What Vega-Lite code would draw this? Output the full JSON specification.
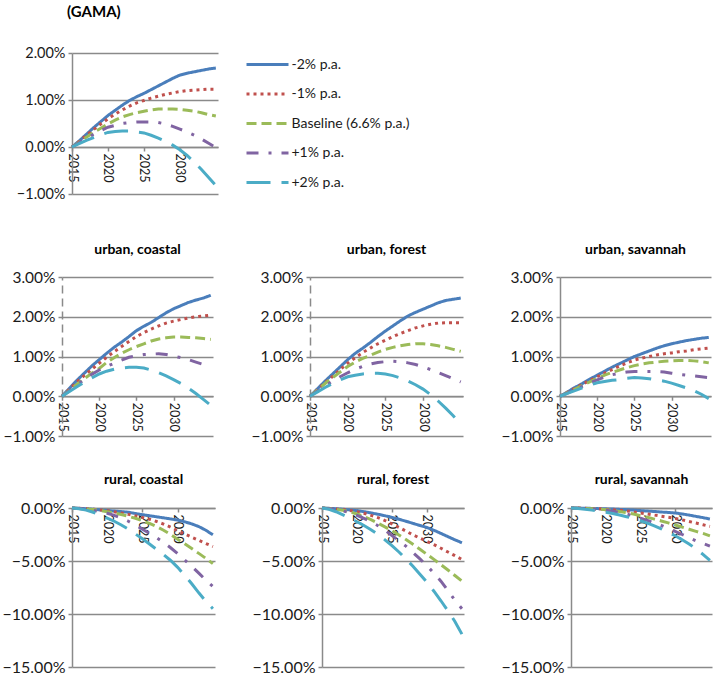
{
"$schema":"https://vega.github.io/schema/vega-lite/v6.json",
"padding":{"left":0,"top":5,"right":0,"bottom":0},
"background":"white",
"config":{
"view":{"stroke":null},
"font":"Lato",
"axis":{"domainColor":"#8a8a8a","domainWidth":1.5,"tickColor":"#8a8a8a","tickWidth":1.5,"tickSize":4,"gridColor":"#8a8a8a","gridWidth":1.5,"labelColor":"#1a1a1a","labelFont":"Lato","labelPadding":3},
"axisX":{"labelFontSize":12.5,"labelAngle":90,"grid":false,"labelPadding":2,"format":"d","labelOverlap":false,"labelFlush":false},
"axisY":{"grid":true,"labelOverlap":false},
"title":{"font":"Lato","fontSize":14,"fontWeight":"bold","color":"#000000","anchor":"middle"},
"legend":{"orient":"none","legendX":255.5,"legendY":-0.5,"labelFont":"Lato","labelFontSize":14,"labelColor":"#1a1a1a","symbolType":"M-2,0H2","symbolSize":441,"symbolStrokeWidth":3,"rowPadding":10.5,"labelOffset":12,"padding":0}
},
"datasets":{
"g":[
{"s":"a","t":2015,"v":0},{"s":"a","t":2016,"v":0.13},{"s":"a","t":2017,"v":0.27},{"s":"a","t":2018,"v":0.41},{"s":"a","t":2019,"v":0.54},{"s":"a","t":2020,"v":0.67},{"s":"a","t":2021,"v":0.78},{"s":"a","t":2022,"v":0.89},{"s":"a","t":2023,"v":0.99},{"s":"a","t":2024,"v":1.07},{"s":"a","t":2025,"v":1.14},{"s":"a","t":2026,"v":1.22},{"s":"a","t":2027,"v":1.30},{"s":"a","t":2028,"v":1.38},{"s":"a","t":2029,"v":1.46},{"s":"a","t":2030,"v":1.53},{"s":"a","t":2031,"v":1.57},{"s":"a","t":2032,"v":1.60},{"s":"a","t":2033,"v":1.63},{"s":"a","t":2034,"v":1.66},{"s":"a","t":2035,"v":1.68},
{"s":"b","t":2015,"v":0},{"s":"b","t":2016,"v":0.12},{"s":"b","t":2017,"v":0.25},{"s":"b","t":2018,"v":0.37},{"s":"b","t":2019,"v":0.49},{"s":"b","t":2020,"v":0.60},{"s":"b","t":2021,"v":0.70},{"s":"b","t":2022,"v":0.79},{"s":"b","t":2023,"v":0.87},{"s":"b","t":2024,"v":0.94},{"s":"b","t":2025,"v":0.99},{"s":"b","t":2026,"v":1.04},{"s":"b","t":2027,"v":1.08},{"s":"b","t":2028,"v":1.12},{"s":"b","t":2029,"v":1.15},{"s":"b","t":2030,"v":1.18},{"s":"b","t":2031,"v":1.20},{"s":"b","t":2032,"v":1.21},{"s":"b","t":2033,"v":1.22},{"s":"b","t":2034,"v":1.23},{"s":"b","t":2035,"v":1.23},
{"s":"c","t":2015,"v":0},{"s":"c","t":2016,"v":0.10},{"s":"c","t":2017,"v":0.21},{"s":"c","t":2018,"v":0.31},{"s":"c","t":2019,"v":0.40},{"s":"c","t":2020,"v":0.49},{"s":"c","t":2021,"v":0.57},{"s":"c","t":2022,"v":0.64},{"s":"c","t":2023,"v":0.69},{"s":"c","t":2024,"v":0.73},{"s":"c","t":2025,"v":0.76},{"s":"c","t":2026,"v":0.79},{"s":"c","t":2027,"v":0.81},{"s":"c","t":2028,"v":0.81},{"s":"c","t":2029,"v":0.81},{"s":"c","t":2030,"v":0.80},{"s":"c","t":2031,"v":0.78},{"s":"c","t":2032,"v":0.76},{"s":"c","t":2033,"v":0.73},{"s":"c","t":2034,"v":0.69},{"s":"c","t":2035,"v":0.66},
{"s":"d","t":2015,"v":0},{"s":"d","t":2016,"v":0.09},{"s":"d","t":2017,"v":0.18},{"s":"d","t":2018,"v":0.27},{"s":"d","t":2019,"v":0.35},{"s":"d","t":2020,"v":0.42},{"s":"d","t":2021,"v":0.46},{"s":"d","t":2022,"v":0.50},{"s":"d","t":2023,"v":0.52},{"s":"d","t":2024,"v":0.53},{"s":"d","t":2025,"v":0.53},{"s":"d","t":2026,"v":0.53},{"s":"d","t":2027,"v":0.52},{"s":"d","t":2028,"v":0.49},{"s":"d","t":2029,"v":0.44},{"s":"d","t":2030,"v":0.38},{"s":"d","t":2031,"v":0.32},{"s":"d","t":2032,"v":0.25},{"s":"d","t":2033,"v":0.17},{"s":"d","t":2034,"v":0.08},{"s":"d","t":2035,"v":-0.01},
{"s":"e","t":2015,"v":0},{"s":"e","t":2016,"v":0.07},{"s":"e","t":2017,"v":0.14},{"s":"e","t":2018,"v":0.20},{"s":"e","t":2019,"v":0.26},{"s":"e","t":2020,"v":0.31},{"s":"e","t":2021,"v":0.33},{"s":"e","t":2022,"v":0.34},{"s":"e","t":2023,"v":0.34},{"s":"e","t":2024,"v":0.32},{"s":"e","t":2025,"v":0.30},{"s":"e","t":2026,"v":0.25},{"s":"e","t":2027,"v":0.19},{"s":"e","t":2028,"v":0.12},{"s":"e","t":2029,"v":0.04},{"s":"e","t":2030,"v":-0.06},{"s":"e","t":2031,"v":-0.18},{"s":"e","t":2032,"v":-0.32},{"s":"e","t":2033,"v":-0.48},{"s":"e","t":2034,"v":-0.65},{"s":"e","t":2035,"v":-0.82}
],
"uc":[
{"s":"a","t":2015,"v":0},{"s":"a","t":2016,"v":0.20},{"s":"a","t":2017,"v":0.40},{"s":"a","t":2018,"v":0.58},{"s":"a","t":2019,"v":0.76},{"s":"a","t":2020,"v":0.92},{"s":"a","t":2021,"v":1.08},{"s":"a","t":2022,"v":1.23},{"s":"a","t":2023,"v":1.36},{"s":"a","t":2024,"v":1.50},{"s":"a","t":2025,"v":1.65},{"s":"a","t":2026,"v":1.76},{"s":"a","t":2027,"v":1.86},{"s":"a","t":2028,"v":1.98},{"s":"a","t":2029,"v":2.10},{"s":"a","t":2030,"v":2.20},{"s":"a","t":2031,"v":2.28},{"s":"a","t":2032,"v":2.36},{"s":"a","t":2033,"v":2.42},{"s":"a","t":2034,"v":2.47},{"s":"a","t":2035,"v":2.54},
{"s":"b","t":2015,"v":0},{"s":"b","t":2016,"v":0.18},{"s":"b","t":2017,"v":0.36},{"s":"b","t":2018,"v":0.52},{"s":"b","t":2019,"v":0.68},{"s":"b","t":2020,"v":0.83},{"s":"b","t":2021,"v":0.98},{"s":"b","t":2022,"v":1.12},{"s":"b","t":2023,"v":1.25},{"s":"b","t":2024,"v":1.38},{"s":"b","t":2025,"v":1.50},{"s":"b","t":2026,"v":1.60},{"s":"b","t":2027,"v":1.69},{"s":"b","t":2028,"v":1.77},{"s":"b","t":2029,"v":1.84},{"s":"b","t":2030,"v":1.89},{"s":"b","t":2031,"v":1.93},{"s":"b","t":2032,"v":1.97},{"s":"b","t":2033,"v":2.00},{"s":"b","t":2034,"v":2.02},{"s":"b","t":2035,"v":2.04},
{"s":"c","t":2015,"v":0},{"s":"c","t":2016,"v":0.15},{"s":"c","t":2017,"v":0.30},{"s":"c","t":2018,"v":0.44},{"s":"c","t":2019,"v":0.58},{"s":"c","t":2020,"v":0.70},{"s":"c","t":2021,"v":0.85},{"s":"c","t":2022,"v":0.97},{"s":"c","t":2023,"v":1.08},{"s":"c","t":2024,"v":1.17},{"s":"c","t":2025,"v":1.25},{"s":"c","t":2026,"v":1.32},{"s":"c","t":2027,"v":1.39},{"s":"c","t":2028,"v":1.44},{"s":"c","t":2029,"v":1.47},{"s":"c","t":2030,"v":1.49},{"s":"c","t":2031,"v":1.49},{"s":"c","t":2032,"v":1.48},{"s":"c","t":2033,"v":1.47},{"s":"c","t":2034,"v":1.45},{"s":"c","t":2035,"v":1.43},
{"s":"d","t":2015,"v":0},{"s":"d","t":2016,"v":0.14},{"s":"d","t":2017,"v":0.28},{"s":"d","t":2018,"v":0.42},{"s":"d","t":2019,"v":0.55},{"s":"d","t":2020,"v":0.66},{"s":"d","t":2021,"v":0.75},{"s":"d","t":2022,"v":0.83},{"s":"d","t":2023,"v":0.91},{"s":"d","t":2024,"v":0.98},{"s":"d","t":2025,"v":1.02},{"s":"d","t":2026,"v":1.05},{"s":"d","t":2027,"v":1.06},{"s":"d","t":2028,"v":1.07},{"s":"d","t":2029,"v":1.05},{"s":"d","t":2030,"v":1.01},{"s":"d","t":2031,"v":0.97},{"s":"d","t":2032,"v":0.92},{"s":"d","t":2033,"v":0.86},{"s":"d","t":2034,"v":0.80},{"s":"d","t":2035,"v":0.74},
{"s":"e","t":2015,"v":0},{"s":"e","t":2016,"v":0.12},{"s":"e","t":2017,"v":0.24},{"s":"e","t":2018,"v":0.35},{"s":"e","t":2019,"v":0.46},{"s":"e","t":2020,"v":0.56},{"s":"e","t":2021,"v":0.63},{"s":"e","t":2022,"v":0.68},{"s":"e","t":2023,"v":0.71},{"s":"e","t":2024,"v":0.73},{"s":"e","t":2025,"v":0.73},{"s":"e","t":2026,"v":0.71},{"s":"e","t":2027,"v":0.66},{"s":"e","t":2028,"v":0.59},{"s":"e","t":2029,"v":0.51},{"s":"e","t":2030,"v":0.42},{"s":"e","t":2031,"v":0.32},{"s":"e","t":2032,"v":0.20},{"s":"e","t":2033,"v":0.07},{"s":"e","t":2034,"v":-0.08},{"s":"e","t":2035,"v":-0.23}
],
"uf":[
{"s":"a","t":2015,"v":0},{"s":"a","t":2016,"v":0.19},{"s":"a","t":2017,"v":0.38},{"s":"a","t":2018,"v":0.56},{"s":"a","t":2019,"v":0.74},{"s":"a","t":2020,"v":0.92},{"s":"a","t":2021,"v":1.08},{"s":"a","t":2022,"v":1.21},{"s":"a","t":2023,"v":1.35},{"s":"a","t":2024,"v":1.50},{"s":"a","t":2025,"v":1.64},{"s":"a","t":2026,"v":1.77},{"s":"a","t":2027,"v":1.90},{"s":"a","t":2028,"v":2.02},{"s":"a","t":2029,"v":2.11},{"s":"a","t":2030,"v":2.19},{"s":"a","t":2031,"v":2.27},{"s":"a","t":2032,"v":2.35},{"s":"a","t":2033,"v":2.41},{"s":"a","t":2034,"v":2.44},{"s":"a","t":2035,"v":2.47},
{"s":"b","t":2015,"v":0},{"s":"b","t":2016,"v":0.17},{"s":"b","t":2017,"v":0.34},{"s":"b","t":2018,"v":0.50},{"s":"b","t":2019,"v":0.67},{"s":"b","t":2020,"v":0.83},{"s":"b","t":2021,"v":0.97},{"s":"b","t":2022,"v":1.10},{"s":"b","t":2023,"v":1.21},{"s":"b","t":2024,"v":1.32},{"s":"b","t":2025,"v":1.41},{"s":"b","t":2026,"v":1.50},{"s":"b","t":2027,"v":1.58},{"s":"b","t":2028,"v":1.65},{"s":"b","t":2029,"v":1.72},{"s":"b","t":2030,"v":1.77},{"s":"b","t":2031,"v":1.81},{"s":"b","t":2032,"v":1.84},{"s":"b","t":2033,"v":1.85},{"s":"b","t":2034,"v":1.85},{"s":"b","t":2035,"v":1.85},
{"s":"c","t":2015,"v":0},{"s":"c","t":2016,"v":0.16},{"s":"c","t":2017,"v":0.32},{"s":"c","t":2018,"v":0.47},{"s":"c","t":2019,"v":0.61},{"s":"c","t":2020,"v":0.75},{"s":"c","t":2021,"v":0.86},{"s":"c","t":2022,"v":0.95},{"s":"c","t":2023,"v":1.03},{"s":"c","t":2024,"v":1.11},{"s":"c","t":2025,"v":1.18},{"s":"c","t":2026,"v":1.23},{"s":"c","t":2027,"v":1.27},{"s":"c","t":2028,"v":1.30},{"s":"c","t":2029,"v":1.32},{"s":"c","t":2030,"v":1.32},{"s":"c","t":2031,"v":1.30},{"s":"c","t":2032,"v":1.27},{"s":"c","t":2033,"v":1.23},{"s":"c","t":2034,"v":1.18},{"s":"c","t":2035,"v":1.13},
{"s":"d","t":2015,"v":0},{"s":"d","t":2016,"v":0.13},{"s":"d","t":2017,"v":0.26},{"s":"d","t":2018,"v":0.38},{"s":"d","t":2019,"v":0.49},{"s":"d","t":2020,"v":0.59},{"s":"d","t":2021,"v":0.68},{"s":"d","t":2022,"v":0.75},{"s":"d","t":2023,"v":0.81},{"s":"d","t":2024,"v":0.85},{"s":"d","t":2025,"v":0.87},{"s":"d","t":2026,"v":0.88},{"s":"d","t":2027,"v":0.87},{"s":"d","t":2028,"v":0.84},{"s":"d","t":2029,"v":0.80},{"s":"d","t":2030,"v":0.74},{"s":"d","t":2031,"v":0.67},{"s":"d","t":2032,"v":0.60},{"s":"d","t":2033,"v":0.52},{"s":"d","t":2034,"v":0.44},{"s":"d","t":2035,"v":0.36},
{"s":"e","t":2015,"v":0},{"s":"e","t":2016,"v":0.11},{"s":"e","t":2017,"v":0.22},{"s":"e","t":2018,"v":0.32},{"s":"e","t":2019,"v":0.41},{"s":"e","t":2020,"v":0.49},{"s":"e","t":2021,"v":0.53},{"s":"e","t":2022,"v":0.56},{"s":"e","t":2023,"v":0.58},{"s":"e","t":2024,"v":0.58},{"s":"e","t":2025,"v":0.56},{"s":"e","t":2026,"v":0.52},{"s":"e","t":2027,"v":0.46},{"s":"e","t":2028,"v":0.38},{"s":"e","t":2029,"v":0.29},{"s":"e","t":2030,"v":0.18},{"s":"e","t":2031,"v":0.04},{"s":"e","t":2032,"v":-0.12},{"s":"e","t":2033,"v":-0.30},{"s":"e","t":2034,"v":-0.49},{"s":"e","t":2035,"v":-0.70}
],
"us":[
{"s":"a","t":2015,"v":0},{"s":"a","t":2016,"v":0.11},{"s":"a","t":2017,"v":0.22},{"s":"a","t":2018,"v":0.32},{"s":"a","t":2019,"v":0.43},{"s":"a","t":2020,"v":0.53},{"s":"a","t":2021,"v":0.63},{"s":"a","t":2022,"v":0.73},{"s":"a","t":2023,"v":0.82},{"s":"a","t":2024,"v":0.91},{"s":"a","t":2025,"v":1.00},{"s":"a","t":2026,"v":1.07},{"s":"a","t":2027,"v":1.14},{"s":"a","t":2028,"v":1.21},{"s":"a","t":2029,"v":1.27},{"s":"a","t":2030,"v":1.32},{"s":"a","t":2031,"v":1.36},{"s":"a","t":2032,"v":1.40},{"s":"a","t":2033,"v":1.43},{"s":"a","t":2034,"v":1.46},{"s":"a","t":2035,"v":1.48},
{"s":"b","t":2015,"v":0},{"s":"b","t":2016,"v":0.10},{"s":"b","t":2017,"v":0.20},{"s":"b","t":2018,"v":0.30},{"s":"b","t":2019,"v":0.40},{"s":"b","t":2020,"v":0.49},{"s":"b","t":2021,"v":0.58},{"s":"b","t":2022,"v":0.67},{"s":"b","t":2023,"v":0.76},{"s":"b","t":2024,"v":0.84},{"s":"b","t":2025,"v":0.91},{"s":"b","t":2026,"v":0.96},{"s":"b","t":2027,"v":1.00},{"s":"b","t":2028,"v":1.04},{"s":"b","t":2029,"v":1.07},{"s":"b","t":2030,"v":1.09},{"s":"b","t":2031,"v":1.12},{"s":"b","t":2032,"v":1.14},{"s":"b","t":2033,"v":1.17},{"s":"b","t":2034,"v":1.19},{"s":"b","t":2035,"v":1.21},
{"s":"c","t":2015,"v":0},{"s":"c","t":2016,"v":0.09},{"s":"c","t":2017,"v":0.18},{"s":"c","t":2018,"v":0.27},{"s":"c","t":2019,"v":0.36},{"s":"c","t":2020,"v":0.45},{"s":"c","t":2021,"v":0.53},{"s":"c","t":2022,"v":0.60},{"s":"c","t":2023,"v":0.66},{"s":"c","t":2024,"v":0.72},{"s":"c","t":2025,"v":0.77},{"s":"c","t":2026,"v":0.81},{"s":"c","t":2027,"v":0.84},{"s":"c","t":2028,"v":0.86},{"s":"c","t":2029,"v":0.88},{"s":"c","t":2030,"v":0.89},{"s":"c","t":2031,"v":0.90},{"s":"c","t":2032,"v":0.90},{"s":"c","t":2033,"v":0.89},{"s":"c","t":2034,"v":0.87},{"s":"c","t":2035,"v":0.84},
{"s":"d","t":2015,"v":0},{"s":"d","t":2016,"v":0.08},{"s":"d","t":2017,"v":0.17},{"s":"d","t":2018,"v":0.25},{"s":"d","t":2019,"v":0.33},{"s":"d","t":2020,"v":0.41},{"s":"d","t":2021,"v":0.48},{"s":"d","t":2022,"v":0.54},{"s":"d","t":2023,"v":0.58},{"s":"d","t":2024,"v":0.61},{"s":"d","t":2025,"v":0.62},{"s":"d","t":2026,"v":0.62},{"s":"d","t":2027,"v":0.62},{"s":"d","t":2028,"v":0.62},{"s":"d","t":2029,"v":0.61},{"s":"d","t":2030,"v":0.58},{"s":"d","t":2031,"v":0.55},{"s":"d","t":2032,"v":0.53},{"s":"d","t":2033,"v":0.51},{"s":"d","t":2034,"v":0.49},{"s":"d","t":2035,"v":0.47},
{"s":"e","t":2015,"v":0},{"s":"e","t":2016,"v":0.07},{"s":"e","t":2017,"v":0.14},{"s":"e","t":2018,"v":0.21},{"s":"e","t":2019,"v":0.28},{"s":"e","t":2020,"v":0.34},{"s":"e","t":2021,"v":0.37},{"s":"e","t":2022,"v":0.40},{"s":"e","t":2023,"v":0.42},{"s":"e","t":2024,"v":0.45},{"s":"e","t":2025,"v":0.47},{"s":"e","t":2026,"v":0.46},{"s":"e","t":2027,"v":0.44},{"s":"e","t":2028,"v":0.41},{"s":"e","t":2029,"v":0.38},{"s":"e","t":2030,"v":0.33},{"s":"e","t":2031,"v":0.27},{"s":"e","t":2032,"v":0.21},{"s":"e","t":2033,"v":0.14},{"s":"e","t":2034,"v":0.05},{"s":"e","t":2035,"v":-0.06}
],
"rc":[
{"s":"a","t":2015,"v":0},{"s":"a","t":2016,"v":-0.03},{"s":"a","t":2017,"v":-0.07},{"s":"a","t":2018,"v":-0.12},{"s":"a","t":2019,"v":-0.18},{"s":"a","t":2020,"v":-0.24},{"s":"a","t":2021,"v":-0.29},{"s":"a","t":2022,"v":-0.34},{"s":"a","t":2023,"v":-0.40},{"s":"a","t":2024,"v":-0.52},{"s":"a","t":2025,"v":-0.63},{"s":"a","t":2026,"v":-0.73},{"s":"a","t":2027,"v":-0.83},{"s":"a","t":2028,"v":-0.93},{"s":"a","t":2029,"v":-1.03},{"s":"a","t":2030,"v":-1.14},{"s":"a","t":2031,"v":-1.30},{"s":"a","t":2032,"v":-1.50},{"s":"a","t":2033,"v":-1.75},{"s":"a","t":2034,"v":-2.10},{"s":"a","t":2035,"v":-2.53},
{"s":"b","t":2015,"v":0},{"s":"b","t":2016,"v":-0.03},{"s":"b","t":2017,"v":-0.07},{"s":"b","t":2018,"v":-0.12},{"s":"b","t":2019,"v":-0.18},{"s":"b","t":2020,"v":-0.25},{"s":"b","t":2021,"v":-0.35},{"s":"b","t":2022,"v":-0.47},{"s":"b","t":2023,"v":-0.60},{"s":"b","t":2024,"v":-0.74},{"s":"b","t":2025,"v":-0.89},{"s":"b","t":2026,"v":-1.06},{"s":"b","t":2027,"v":-1.27},{"s":"b","t":2028,"v":-1.52},{"s":"b","t":2029,"v":-1.81},{"s":"b","t":2030,"v":-2.15},{"s":"b","t":2031,"v":-2.45},{"s":"b","t":2032,"v":-2.75},{"s":"b","t":2033,"v":-3.05},{"s":"b","t":2034,"v":-3.35},{"s":"b","t":2035,"v":-3.64},
{"s":"c","t":2015,"v":0},{"s":"c","t":2016,"v":-0.04},{"s":"c","t":2017,"v":-0.09},{"s":"c","t":2018,"v":-0.15},{"s":"c","t":2019,"v":-0.24},{"s":"c","t":2020,"v":-0.35},{"s":"c","t":2021,"v":-0.47},{"s":"c","t":2022,"v":-0.61},{"s":"c","t":2023,"v":-0.78},{"s":"c","t":2024,"v":-0.97},{"s":"c","t":2025,"v":-1.20},{"s":"c","t":2026,"v":-1.45},{"s":"c","t":2027,"v":-1.75},{"s":"c","t":2028,"v":-2.10},{"s":"c","t":2029,"v":-2.50},{"s":"c","t":2030,"v":-2.94},{"s":"c","t":2031,"v":-3.38},{"s":"c","t":2032,"v":-3.83},{"s":"c","t":2033,"v":-4.28},{"s":"c","t":2034,"v":-4.75},{"s":"c","t":2035,"v":-5.25},
{"s":"d","t":2015,"v":0},{"s":"d","t":2016,"v":-0.05},{"s":"d","t":2017,"v":-0.12},{"s":"d","t":2018,"v":-0.22},{"s":"d","t":2019,"v":-0.35},{"s":"d","t":2020,"v":-0.50},{"s":"d","t":2021,"v":-0.70},{"s":"d","t":2022,"v":-0.95},{"s":"d","t":2023,"v":-1.25},{"s":"d","t":2024,"v":-1.60},{"s":"d","t":2025,"v":-2.00},{"s":"d","t":2026,"v":-2.40},{"s":"d","t":2027,"v":-2.80},{"s":"d","t":2028,"v":-3.25},{"s":"d","t":2029,"v":-3.75},{"s":"d","t":2030,"v":-4.30},{"s":"d","t":2031,"v":-4.90},{"s":"d","t":2032,"v":-5.50},{"s":"d","t":2033,"v":-6.15},{"s":"d","t":2034,"v":-6.80},{"s":"d","t":2035,"v":-7.40},
{"s":"e","t":2015,"v":0},{"s":"e","t":2016,"v":-0.08},{"s":"e","t":2017,"v":-0.20},{"s":"e","t":2018,"v":-0.40},{"s":"e","t":2019,"v":-0.65},{"s":"e","t":2020,"v":-0.95},{"s":"e","t":2021,"v":-1.25},{"s":"e","t":2022,"v":-1.60},{"s":"e","t":2023,"v":-2.00},{"s":"e","t":2024,"v":-2.45},{"s":"e","t":2025,"v":-2.90},{"s":"e","t":2026,"v":-3.40},{"s":"e","t":2027,"v":-3.90},{"s":"e","t":2028,"v":-4.40},{"s":"e","t":2029,"v":-4.95},{"s":"e","t":2030,"v":-5.60},{"s":"e","t":2031,"v":-6.35},{"s":"e","t":2032,"v":-7.15},{"s":"e","t":2033,"v":-8.00},{"s":"e","t":2034,"v":-8.80},{"s":"e","t":2035,"v":-9.50}
],
"rf":[
{"s":"a","t":2015,"v":0},{"s":"a","t":2016,"v":-0.03},{"s":"a","t":2017,"v":-0.07},{"s":"a","t":2018,"v":-0.12},{"s":"a","t":2019,"v":-0.18},{"s":"a","t":2020,"v":-0.25},{"s":"a","t":2021,"v":-0.35},{"s":"a","t":2022,"v":-0.46},{"s":"a","t":2023,"v":-0.59},{"s":"a","t":2024,"v":-0.73},{"s":"a","t":2025,"v":-0.89},{"s":"a","t":2026,"v":-1.06},{"s":"a","t":2027,"v":-1.25},{"s":"a","t":2028,"v":-1.45},{"s":"a","t":2029,"v":-1.65},{"s":"a","t":2030,"v":-1.84},{"s":"a","t":2031,"v":-2.10},{"s":"a","t":2032,"v":-2.40},{"s":"a","t":2033,"v":-2.70},{"s":"a","t":2034,"v":-3.00},{"s":"a","t":2035,"v":-3.28},
{"s":"b","t":2015,"v":0},{"s":"b","t":2016,"v":-0.04},{"s":"b","t":2017,"v":-0.09},{"s":"b","t":2018,"v":-0.15},{"s":"b","t":2019,"v":-0.24},{"s":"b","t":2020,"v":-0.35},{"s":"b","t":2021,"v":-0.50},{"s":"b","t":2022,"v":-0.69},{"s":"b","t":2023,"v":-0.91},{"s":"b","t":2024,"v":-1.18},{"s":"b","t":2025,"v":-1.50},{"s":"b","t":2026,"v":-1.83},{"s":"b","t":2027,"v":-2.18},{"s":"b","t":2028,"v":-2.53},{"s":"b","t":2029,"v":-2.85},{"s":"b","t":2030,"v":-3.15},{"s":"b","t":2031,"v":-3.45},{"s":"b","t":2032,"v":-3.80},{"s":"b","t":2033,"v":-4.15},{"s":"b","t":2034,"v":-4.50},{"s":"b","t":2035,"v":-4.85},
{"s":"c","t":2015,"v":0},{"s":"c","t":2016,"v":-0.05},{"s":"c","t":2017,"v":-0.12},{"s":"c","t":2018,"v":-0.22},{"s":"c","t":2019,"v":-0.37},{"s":"c","t":2020,"v":-0.57},{"s":"c","t":2021,"v":-0.80},{"s":"c","t":2022,"v":-1.10},{"s":"c","t":2023,"v":-1.43},{"s":"c","t":2024,"v":-1.78},{"s":"c","t":2025,"v":-2.15},{"s":"c","t":2026,"v":-2.55},{"s":"c","t":2027,"v":-2.98},{"s":"c","t":2028,"v":-3.43},{"s":"c","t":2029,"v":-3.90},{"s":"c","t":2030,"v":-4.37},{"s":"c","t":2031,"v":-4.85},{"s":"c","t":2032,"v":-5.35},{"s":"c","t":2033,"v":-5.85},{"s":"c","t":2034,"v":-6.37},{"s":"c","t":2035,"v":-6.90},
{"s":"d","t":2015,"v":0},{"s":"d","t":2016,"v":-0.06},{"s":"d","t":2017,"v":-0.14},{"s":"d","t":2018,"v":-0.27},{"s":"d","t":2019,"v":-0.45},{"s":"d","t":2020,"v":-0.70},{"s":"d","t":2021,"v":-0.98},{"s":"d","t":2022,"v":-1.30},{"s":"d","t":2023,"v":-1.67},{"s":"d","t":2024,"v":-2.10},{"s":"d","t":2025,"v":-2.60},{"s":"d","t":2026,"v":-3.10},{"s":"d","t":2027,"v":-3.60},{"s":"d","t":2028,"v":-4.20},{"s":"d","t":2029,"v":-4.80},{"s":"d","t":2030,"v":-5.45},{"s":"d","t":2031,"v":-6.15},{"s":"d","t":2032,"v":-6.90},{"s":"d","t":2033,"v":-7.80},{"s":"d","t":2034,"v":-8.70},{"s":"d","t":2035,"v":-9.50},
{"s":"e","t":2015,"v":0},{"s":"e","t":2016,"v":-0.12},{"s":"e","t":2017,"v":-0.35},{"s":"e","t":2018,"v":-0.65},{"s":"e","t":2019,"v":-0.95},{"s":"e","t":2020,"v":-1.30},{"s":"e","t":2021,"v":-1.65},{"s":"e","t":2022,"v":-2.05},{"s":"e","t":2023,"v":-2.50},{"s":"e","t":2024,"v":-3.00},{"s":"e","t":2025,"v":-3.55},{"s":"e","t":2026,"v":-4.15},{"s":"e","t":2027,"v":-4.80},{"s":"e","t":2028,"v":-5.50},{"s":"e","t":2029,"v":-6.25},{"s":"e","t":2030,"v":-7.00},{"s":"e","t":2031,"v":-7.85},{"s":"e","t":2032,"v":-8.75},{"s":"e","t":2033,"v":-9.70},{"s":"e","t":2034,"v":-10.70},{"s":"e","t":2035,"v":-11.90}
],
"rs":[
{"s":"a","t":2015,"v":0},{"s":"a","t":2016,"v":-0.01},{"s":"a","t":2017,"v":-0.02},{"s":"a","t":2018,"v":-0.04},{"s":"a","t":2019,"v":-0.06},{"s":"a","t":2020,"v":-0.08},{"s":"a","t":2021,"v":-0.10},{"s":"a","t":2022,"v":-0.13},{"s":"a","t":2023,"v":-0.16},{"s":"a","t":2024,"v":-0.20},{"s":"a","t":2025,"v":-0.25},{"s":"a","t":2026,"v":-0.29},{"s":"a","t":2027,"v":-0.33},{"s":"a","t":2028,"v":-0.38},{"s":"a","t":2029,"v":-0.42},{"s":"a","t":2030,"v":-0.47},{"s":"a","t":2031,"v":-0.56},{"s":"a","t":2032,"v":-0.67},{"s":"a","t":2033,"v":-0.79},{"s":"a","t":2034,"v":-0.91},{"s":"a","t":2035,"v":-1.04},
{"s":"b","t":2015,"v":0},{"s":"b","t":2016,"v":-0.01},{"s":"b","t":2017,"v":-0.03},{"s":"b","t":2018,"v":-0.05},{"s":"b","t":2019,"v":-0.08},{"s":"b","t":2020,"v":-0.12},{"s":"b","t":2021,"v":-0.16},{"s":"b","t":2022,"v":-0.21},{"s":"b","t":2023,"v":-0.27},{"s":"b","t":2024,"v":-0.36},{"s":"b","t":2025,"v":-0.47},{"s":"b","t":2026,"v":-0.57},{"s":"b","t":2027,"v":-0.67},{"s":"b","t":2028,"v":-0.77},{"s":"b","t":2029,"v":-0.88},{"s":"b","t":2030,"v":-0.98},{"s":"b","t":2031,"v":-1.12},{"s":"b","t":2032,"v":-1.27},{"s":"b","t":2033,"v":-1.42},{"s":"b","t":2034,"v":-1.58},{"s":"b","t":2035,"v":-1.74},
{"s":"c","t":2015,"v":0},{"s":"c","t":2016,"v":-0.02},{"s":"c","t":2017,"v":-0.04},{"s":"c","t":2018,"v":-0.07},{"s":"c","t":2019,"v":-0.11},{"s":"c","t":2020,"v":-0.16},{"s":"c","t":2021,"v":-0.24},{"s":"c","t":2022,"v":-0.33},{"s":"c","t":2023,"v":-0.44},{"s":"c","t":2024,"v":-0.57},{"s":"c","t":2025,"v":-0.73},{"s":"c","t":2026,"v":-0.88},{"s":"c","t":2027,"v":-1.05},{"s":"c","t":2028,"v":-1.22},{"s":"c","t":2029,"v":-1.40},{"s":"c","t":2030,"v":-1.60},{"s":"c","t":2031,"v":-1.80},{"s":"c","t":2032,"v":-2.00},{"s":"c","t":2033,"v":-2.20},{"s":"c","t":2034,"v":-2.40},{"s":"c","t":2035,"v":-2.63},
{"s":"d","t":2015,"v":0},{"s":"d","t":2016,"v":-0.02},{"s":"d","t":2017,"v":-0.05},{"s":"d","t":2018,"v":-0.09},{"s":"d","t":2019,"v":-0.14},{"s":"d","t":2020,"v":-0.20},{"s":"d","t":2021,"v":-0.30},{"s":"d","t":2022,"v":-0.42},{"s":"d","t":2023,"v":-0.57},{"s":"d","t":2024,"v":-0.75},{"s":"d","t":2025,"v":-0.95},{"s":"d","t":2026,"v":-1.17},{"s":"d","t":2027,"v":-1.40},{"s":"d","t":2028,"v":-1.65},{"s":"d","t":2029,"v":-1.92},{"s":"d","t":2030,"v":-2.20},{"s":"d","t":2031,"v":-2.50},{"s":"d","t":2032,"v":-2.80},{"s":"d","t":2033,"v":-3.10},{"s":"d","t":2034,"v":-3.35},{"s":"d","t":2035,"v":-3.60},
{"s":"e","t":2015,"v":0},{"s":"e","t":2016,"v":-0.05},{"s":"e","t":2017,"v":-0.12},{"s":"e","t":2018,"v":-0.20},{"s":"e","t":2019,"v":-0.30},{"s":"e","t":2020,"v":-0.40},{"s":"e","t":2021,"v":-0.52},{"s":"e","t":2022,"v":-0.66},{"s":"e","t":2023,"v":-0.82},{"s":"e","t":2024,"v":-1.00},{"s":"e","t":2025,"v":-1.20},{"s":"e","t":2026,"v":-1.42},{"s":"e","t":2027,"v":-1.68},{"s":"e","t":2028,"v":-1.97},{"s":"e","t":2029,"v":-2.28},{"s":"e","t":2030,"v":-2.62},{"s":"e","t":2031,"v":-3.00},{"s":"e","t":2032,"v":-3.40},{"s":"e","t":2033,"v":-3.85},{"s":"e","t":2034,"v":-4.38},{"s":"e","t":2035,"v":-4.95}
],
"blank":[{"k":0}]
},
"spacing":42,
"align":"none",
"resolve":{"scale":{"x":"independent","y":"independent"}},
"vconcat":[
{
"spacing":1,
"resolve":{"scale":{"x":"independent","y":"independent"}},
"hconcat":[
{"data":{"name":"blank"},"width":1,"height":1,"mark":{"type":"point","opacity":0,"size":0}},
{
"data":{"name":"g"},"width":146,"height":141,
"title":{"text":"(GAMA)","anchor":"start","frame":"group","dx":-5,"offset":25,"fontSize":15},
"mark":{"type":"line","strokeWidth":3},
"encoding":{
"x":{"field":"t","type":"quantitative","scale":{"domain":[2015,2035.3],"nice":false,"zero":false},"axis":{"values":[2015,2020,2025,2030],"offset":-47,"title":null}},
"y":{"field":"v","type":"quantitative","scale":{"domain":[-1,2],"nice":false,"zero":false},"axis":{"values":[-1,0,1,2],"labelExpr":"format(datum.value,'.2f')+'%'","labelFontSize":14.5,"minExtent":70,"maxExtent":70,"title":null}},
"color":{"field":"s","type":"nominal","scale":{"domain":["a","b","c","d","e"],"range":["#4A7EBB","#C0504D","#9BBB59","#8064A2","#4BACC6"]},"legend":{"title":null,"labelExpr":"{'a':'-2% p.a.','b':'-1% p.a.','c':'Baseline (6.6% p.a.)','d':'+1% p.a.','e':'+2% p.a.'}[datum.label]"}},
"strokeDash":{"field":"s","type":"nominal","scale":{"domain":["a","b","c","d","e"],"range":[[1,0],[3,4],[10,5],[12,10,3,10],[24,11]]},"legend":{"title":null,"labelExpr":"{'a':'-2% p.a.','b':'-1% p.a.','c':'Baseline (6.6% p.a.)','d':'+1% p.a.','e':'+2% p.a.'}[datum.label]"}}
}
}
]
},
{
"spacing":28,
"align":"none",
"resolve":{"scale":{"x":"independent","y":"independent"}},
"vconcat":[
{
"spacing":1,
"resolve":{"scale":{"x":"independent","y":"independent"}},
"hconcat":[
{"data":{"name":"blank"},"width":1,"height":1,"mark":{"type":"point","opacity":0,"size":0}},
{"data":{"name":"uc"},"width":151,"height":159,"title":{"text":"urban, coastal","offset":13},"mark":{"type":"line","strokeWidth":3},
"encoding":{
"x":{"field":"t","type":"quantitative","scale":{"domain":[2015,2035.3],"nice":false,"zero":false},"axis":{"values":[2015,2020,2025,2030],"offset":-39.75,"title":null}},
"y":{"field":"v","type":"quantitative","scale":{"domain":[-1,3],"nice":false,"zero":false},"axis":{"values":[-1,0,1,2,3],"labelExpr":"format(datum.value,'.2f')+'%'","labelFontSize":15.5,"minExtent":60,"maxExtent":60,"domainDash":[8,5],"title":null}},
"color":{"field":"s","type":"nominal","scale":{"domain":["a","b","c","d","e"],"range":["#4A7EBB","#C0504D","#9BBB59","#8064A2","#4BACC6"]},"legend":{"title":null,"labelExpr":"{'a':'-2% p.a.','b':'-1% p.a.','c':'Baseline (6.6% p.a.)','d':'+1% p.a.','e':'+2% p.a.'}[datum.label]"}},
"strokeDash":{"field":"s","type":"nominal","scale":{"domain":["a","b","c","d","e"],"range":[[1,0],[3,4],[10,5],[12,10,3,10],[24,11]]},"legend":{"title":null,"labelExpr":"{'a':'-2% p.a.','b':'-1% p.a.','c':'Baseline (6.6% p.a.)','d':'+1% p.a.','e':'+2% p.a.'}[datum.label]"}}
}},
{"data":{"name":"uf"},"width":153,"height":159,"title":{"text":"urban, forest","offset":13},"mark":{"type":"line","strokeWidth":3},
"encoding":{
"x":{"field":"t","type":"quantitative","scale":{"domain":[2015,2035.3],"nice":false,"zero":false},"axis":{"values":[2015,2020,2025,2030],"offset":-39.75,"title":null}},
"y":{"field":"v","type":"quantitative","scale":{"domain":[-1,3],"nice":false,"zero":false},"axis":{"values":[-1,0,1,2,3],"labelExpr":"format(datum.value,'.2f')+'%'","labelFontSize":15.5,"minExtent":92,"maxExtent":92,"domainDash":[8,5],"title":null}},
"color":{"field":"s","type":"nominal","scale":{"domain":["a","b","c","d","e"],"range":["#4A7EBB","#C0504D","#9BBB59","#8064A2","#4BACC6"]},"legend":{"title":null,"labelExpr":"{'a':'-2% p.a.','b':'-1% p.a.','c':'Baseline (6.6% p.a.)','d':'+1% p.a.','e':'+2% p.a.'}[datum.label]"}},
"strokeDash":{"field":"s","type":"nominal","scale":{"domain":["a","b","c","d","e"],"range":[[1,0],[3,4],[10,5],[12,10,3,10],[24,11]]},"legend":{"title":null,"labelExpr":"{'a':'-2% p.a.','b':'-1% p.a.','c':'Baseline (6.6% p.a.)','d':'+1% p.a.','e':'+2% p.a.'}[datum.label]"}}
}},
{"data":{"name":"us"},"width":151,"height":159,"title":{"text":"urban, savannah","offset":13},"mark":{"type":"line","strokeWidth":3},
"encoding":{
"x":{"field":"t","type":"quantitative","scale":{"domain":[2015,2035.3],"nice":false,"zero":false},"axis":{"values":[2015,2020,2025,2030],"offset":-39.75,"title":null}},
"y":{"field":"v","type":"quantitative","scale":{"domain":[-1,3],"nice":false,"zero":false},"axis":{"values":[-1,0,1,2,3],"labelExpr":"format(datum.value,'.2f')+'%'","labelFontSize":15.5,"minExtent":92,"maxExtent":92,"title":null}},
"color":{"field":"s","type":"nominal","scale":{"domain":["a","b","c","d","e"],"range":["#4A7EBB","#C0504D","#9BBB59","#8064A2","#4BACC6"]},"legend":{"title":null,"labelExpr":"{'a':'-2% p.a.','b':'-1% p.a.','c':'Baseline (6.6% p.a.)','d':'+1% p.a.','e':'+2% p.a.'}[datum.label]"}},
"strokeDash":{"field":"s","type":"nominal","scale":{"domain":["a","b","c","d","e"],"range":[[1,0],[3,4],[10,5],[12,10,3,10],[24,11]]},"legend":{"title":null,"labelExpr":"{'a':'-2% p.a.','b':'-1% p.a.','c':'Baseline (6.6% p.a.)','d':'+1% p.a.','e':'+2% p.a.'}[datum.label]"}}
}}
]
},
{
"spacing":1,
"resolve":{"scale":{"x":"independent","y":"independent"}},
"hconcat":[
{"data":{"name":"blank"},"width":1,"height":1,"mark":{"type":"point","opacity":0,"size":0}},
{"data":{"name":"rc"},"width":143,"height":159,"title":{"text":"rural, coastal","offset":13},"mark":{"type":"line","strokeWidth":3},
"encoding":{
"x":{"field":"t","type":"quantitative","scale":{"domain":[2015,2035.3],"nice":false,"zero":false},"axis":{"values":[2015,2020,2025,2030],"offset":-159,"title":null}},
"y":{"field":"v","type":"quantitative","scale":{"domain":[-15,0],"nice":false,"zero":false},"axis":{"values":[-15,-10,-5,0],"labelExpr":"format(datum.value,'.2f')+'%'","labelFontSize":16,"minExtent":68,"maxExtent":68,"title":null}},
"color":{"field":"s","type":"nominal","scale":{"domain":["a","b","c","d","e"],"range":["#4A7EBB","#C0504D","#9BBB59","#8064A2","#4BACC6"]},"legend":{"title":null,"labelExpr":"{'a':'-2% p.a.','b':'-1% p.a.','c':'Baseline (6.6% p.a.)','d':'+1% p.a.','e':'+2% p.a.'}[datum.label]"}},
"strokeDash":{"field":"s","type":"nominal","scale":{"domain":["a","b","c","d","e"],"range":[[1,0],[3,4],[10,5],[12,10,3,10],[24,11]]},"legend":{"title":null,"labelExpr":"{'a':'-2% p.a.','b':'-1% p.a.','c':'Baseline (6.6% p.a.)','d':'+1% p.a.','e':'+2% p.a.'}[datum.label]"}}
}},
{"data":{"name":"rf"},"width":142,"height":159,"title":{"text":"rural, forest","offset":13},"mark":{"type":"line","strokeWidth":3},
"encoding":{
"x":{"field":"t","type":"quantitative","scale":{"domain":[2015,2035.3],"nice":false,"zero":false},"axis":{"values":[2015,2020,2025,2030],"offset":-159,"title":null}},
"y":{"field":"v","type":"quantitative","scale":{"domain":[-15,0],"nice":false,"zero":false},"axis":{"values":[-15,-10,-5,0],"labelExpr":"format(datum.value,'.2f')+'%'","labelFontSize":16,"minExtent":102,"maxExtent":102,"title":null}},
"color":{"field":"s","type":"nominal","scale":{"domain":["a","b","c","d","e"],"range":["#4A7EBB","#C0504D","#9BBB59","#8064A2","#4BACC6"]},"legend":{"title":null,"labelExpr":"{'a':'-2% p.a.','b':'-1% p.a.','c':'Baseline (6.6% p.a.)','d':'+1% p.a.','e':'+2% p.a.'}[datum.label]"}},
"strokeDash":{"field":"s","type":"nominal","scale":{"domain":["a","b","c","d","e"],"range":[[1,0],[3,4],[10,5],[12,10,3,10],[24,11]]},"legend":{"title":null,"labelExpr":"{'a':'-2% p.a.','b':'-1% p.a.','c':'Baseline (6.6% p.a.)','d':'+1% p.a.','e':'+2% p.a.'}[datum.label]"}}
}},
{"data":{"name":"rs"},"width":141,"height":159,"title":{"text":"rural, savannah","offset":13},"mark":{"type":"line","strokeWidth":3},
"encoding":{
"x":{"field":"t","type":"quantitative","scale":{"domain":[2015,2035.3],"nice":false,"zero":false},"axis":{"values":[2015,2020,2025,2030],"offset":-159,"title":null}},
"y":{"field":"v","type":"quantitative","scale":{"domain":[-15,0],"nice":false,"zero":false},"axis":{"values":[-15,-10,-5,0],"labelExpr":"format(datum.value,'.2f')+'%'","labelFontSize":16,"minExtent":102,"maxExtent":102,"title":null}},
"color":{"field":"s","type":"nominal","scale":{"domain":["a","b","c","d","e"],"range":["#4A7EBB","#C0504D","#9BBB59","#8064A2","#4BACC6"]},"legend":{"title":null,"labelExpr":"{'a':'-2% p.a.','b':'-1% p.a.','c':'Baseline (6.6% p.a.)','d':'+1% p.a.','e':'+2% p.a.'}[datum.label]"}},
"strokeDash":{"field":"s","type":"nominal","scale":{"domain":["a","b","c","d","e"],"range":[[1,0],[3,4],[10,5],[12,10,3,10],[24,11]]},"legend":{"title":null,"labelExpr":"{'a':'-2% p.a.','b':'-1% p.a.','c':'Baseline (6.6% p.a.)','d':'+1% p.a.','e':'+2% p.a.'}[datum.label]"}}
}}
]
}
]
}
]
}
